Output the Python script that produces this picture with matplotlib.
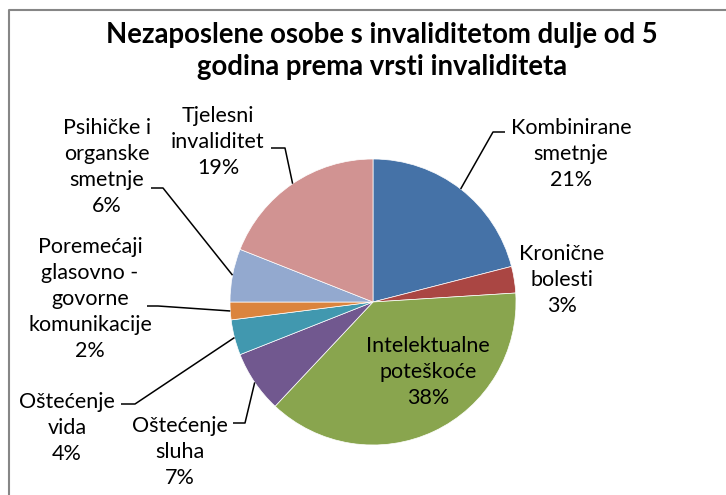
import matplotlib
matplotlib.use("Agg")
import matplotlib.pyplot as plt
import numpy as np

# data (percent)
categories = ['Kombinirane\nsmetnje', 'Kronične\nbolesti', 'Intelektualne\npoteškoće',
              'Oštećenje\nsluha', 'Oštećenje\nvida',
              'Poremećaji\nglasovno -\ngovorne\nkomunikacije',
              'Psihičke i\norganske\nsmetnje', 'Tjelesni\ninvaliditet']
values = [21, 3, 38, 7, 4, 2, 6, 19]
colors = ['#4572A7', '#AA4643', '#89A54E', '#71588F', '#4198AF', '#DB843D', '#93A9CF', '#D19392']

plt.rcParams['font.family'] = ['Lato', 'DejaVu Sans']

W, H = 726, 495
CX, CY, R = 373, 302, 143  # pie centre / radius in pixels


def px(x, y):
    # pixel position (from top-left) -> data coords (pie radius = 1)
    return (x - CX) / R, (CY - y) / R


fig = plt.figure(figsize=(W / 100, H / 100), dpi=100)
ax = fig.add_axes([0, 0, 1, 1])

wedges, _ = ax.pie(values, colors=colors, startangle=90, counterclock=False, radius=1,
                   wedgeprops=dict(edgecolor='white', linewidth=0.5))
ax.set_aspect('auto')
ax.set_xlim(-CX / R, (W - CX) / R)
ax.set_ylim(-(H - CY) / R, CY / R)
ax.axis('off')

# label centres and leader elbows (pixels); None = no leader
label_pos = [(571, 154), (562, 280), (428, 372), (180, 452), (67, 428),
             (90, 299), (107, 167), (218, 142)]
leaders = [((493, 132), (505, 132)), None, None, ((245, 423), (233, 423)),
           ((135, 404), (121, 404)), ((158, 306), (147, 306)),
           ((163, 188), (151, 188)), ((285, 148), (271, 148))]

for w, name, v, pos, ld in zip(wedges, categories, values, label_pos, leaders):
    ax.text(*px(*pos), f"{name}\n{v}%", ha='center', va='center', fontsize=15.5,
            linespacing=1.37, color='black')
    if ld is not None:
        ang = np.deg2rad((w.theta1 + w.theta2) / 2)
        ex, ey = np.cos(ang), np.sin(ang)
        (x1, y1), (x2, y2) = px(*ld[0]), px(*ld[1])
        ax.plot([ex, x1, x2], [ey, y1, y2], color='black', lw=1.1, solid_capstyle='butt')

fig.text(382 / W, 1 - 51 / H, 'Nezaposlene osobe s invaliditetom dulje od 5\ngodina prema vrsti invaliditeta',
         ha='center', va='center', fontsize=19.8, fontweight='bold', linespacing=1.28)

# chart frame (only left and top edges are inside the picture)
fig.add_artist(plt.Line2D([9 / W, 9 / W, 1], [0, 1 - 10 / H, 1 - 10 / H], transform=fig.transFigure,
                          color='#868686', lw=1.5))

fig.savefig('out.png', dpi=100)
